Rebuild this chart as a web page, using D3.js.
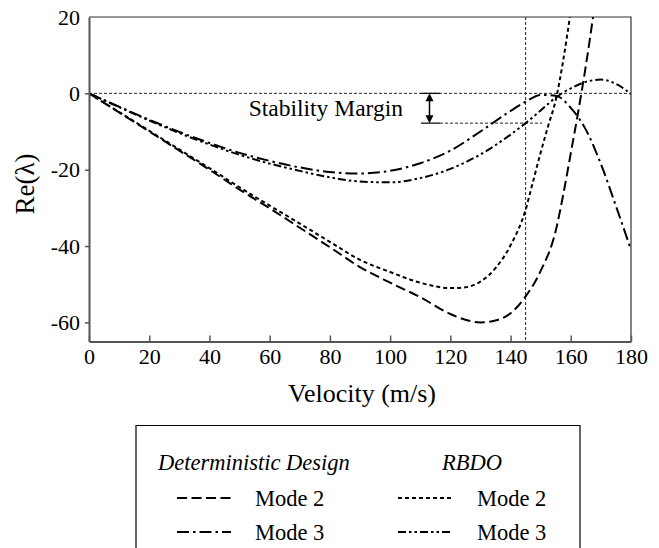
<!DOCTYPE html>
<html>
<head>
<meta charset="utf-8">
<script src="https://cdn.jsdelivr.net/npm/d3@7"></script>
<style>
    body { margin: 0; background: #fff; }
    svg { display: block; }
</style>
</head>
<body>
<div id="chart"></div>
<script>
// velocity grid (m/s) and Re(lambda)
const detMode2V = [0, 10, 20, 30, 40, 50, 60, 70, 80, 90, 100, 110, 120, 125, 130, 135, 140, 145, 150, 155, 157.5, 160, 162.5, 165, 167.4];
const detMode2 = [0, -5, -10, -15, -20, -25.2, -30.1, -35.2, -40.3, -45.5, -49.6, -53.4, -57.8, -59.3, -60, -59.5, -57.6, -53.2, -46.5, -36, -26.5, -15.7, -4.7, 7.2, 20];

const rbdoMode2V = [0, 10, 20, 30, 40, 50, 60, 70, 80, 90, 100, 110, 120, 125, 130, 135, 140, 145, 147.5, 150, 152.5, 155, 157.5, 159.7];
const rbdoMode2 = [0, -4.9, -9.8, -14.7, -19.6, -24.6, -29.4, -34.1, -38.9, -43.6, -46.8, -49.6, -51, -50.8, -49.3, -45.8, -39.8, -30.5, -23, -15.5, -8.5, -1.8, 8.7, 20];

const detMode3V = [0, 10, 20, 30, 40, 50, 60, 70, 80, 90, 100, 110, 120, 130, 140, 145, 150, 155, 160, 165, 170, 175, 180];
const detMode3 = [0, -3.5, -6.9, -10.1, -13, -15.6, -17.7, -19.4, -20.6, -21, -20.3, -18.3, -15, -10, -4.6, -2.2, -0.4, -0.6, -3.8, -9.5, -18.5, -29.5, -41];

const rbdoMode3V = [0, 10, 20, 30, 40, 50, 60, 70, 80, 90, 100, 110, 120, 130, 140, 145, 150, 155, 160, 165, 170, 175, 180];
const rbdoMode3 = [0, -3.6, -7.1, -10.4, -13.4, -16.1, -18.4, -20.3, -22, -23.1, -23.3, -22.2, -19.8, -16, -10.8, -7.8, -4.5, -1.1, 1.3, 3, 3.6, 2.5, -0.2];

const xTicks = [0, 20, 40, 60, 80, 100, 120, 140, 160, 180];
const yTicks = [20, 0, -20, -40, -60];

const criticalV = 145;
const marginValue = -7.8;

const FONT = "'Liberation Serif', 'Times New Roman', serif";

function drawChart() {
    const W = 659, H = 548;
    const plot = { left: 89, top: 17, right: 631, bottom: 341.5 };

    const svg = d3.select("#chart").append("svg")
        .attr("width", W)
        .attr("height", H);

    const x = d3.scaleLinear().domain([0, 180]).range([plot.left, plot.right]);
    const y = d3.scaleLinear().domain([-65, 20]).range([plot.bottom, plot.top]);

    svg.append("clipPath").attr("id", "clip")
        .append("rect")
        .attr("x", plot.left).attr("y", plot.top)
        .attr("width", plot.right - plot.left)
        .attr("height", plot.bottom - plot.top);

    // reference lines
    const ref = svg.append("g")
        .attr("stroke", "#222")
        .attr("stroke-width", 1)
        .attr("stroke-dasharray", "3,2");
    ref.append("line")
        .attr("x1", x(0)).attr("x2", x(180))
        .attr("y1", y(0)).attr("y2", y(0));
    ref.append("line")
        .attr("x1", x(criticalV)).attr("x2", x(criticalV))
        .attr("y1", plot.top).attr("y2", plot.bottom);
    ref.append("line")
        .attr("x1", 440).attr("x2", x(150.5))
        .attr("y1", y(marginValue)).attr("y2", y(marginValue));

    // stability margin arrow
    const ax = 429.5;
    const arrow = svg.append("g").attr("stroke", "#000").attr("fill", "#000");
    arrow.append("line")
        .attr("x1", 421).attr("x2", 440)
        .attr("y1", y(marginValue)).attr("y2", y(marginValue))
        .attr("stroke-width", 1.2);
    arrow.append("line")
        .attr("x1", 421).attr("x2", 440)
        .attr("y1", y(0)).attr("y2", y(0))
        .attr("stroke-width", 1.2);
    arrow.append("line")
        .attr("x1", ax).attr("x2", ax)
        .attr("y1", y(0) + 6).attr("y2", y(marginValue) - 6)
        .attr("stroke-width", 1.5);
    arrow.append("path")
        .attr("stroke", "none")
        .attr("d", `M${ax},${y(0)} L${ax - 4},${y(0) + 8} L${ax + 4},${y(0) + 8} Z`);
    arrow.append("path")
        .attr("stroke", "none")
        .attr("d", `M${ax},${y(marginValue)} L${ax - 4},${y(marginValue) - 8} L${ax + 4},${y(marginValue) - 8} Z`);

    svg.append("text")
        .attr("x", 403)
        .attr("y", 115.5)
        .attr("text-anchor", "end")
        .attr("font-size", 23.5)
        .text("Stability Margin");

    // curves
    const series = [
        { v: detMode2V, val: detMode2, dash: "10,4.5" },
        { v: rbdoMode2V, val: rbdoMode2, dash: "4,3" },
        { v: detMode3V, val: detMode3, dash: "12,4,2.5,4" },
        { v: rbdoMode3V, val: rbdoMode3, dash: "8,3,2.5,3,2.5,3" }
    ];

    const line = d3.line()
        .x(d => x(d[0]))
        .y(d => y(d[1]))
        .curve(d3.curveMonotoneX);

    svg.append("g")
        .attr("clip-path", "url(#clip)")
        .selectAll("path")
        .data(series)
        .enter()
        .append("path")
        .attr("d", s => line(s.v.map((v, i) => [v, s.val[i]])))
        .attr("fill", "none")
        .attr("stroke", "#000")
        .attr("stroke-width", 2)
        .attr("stroke-dasharray", s => s.dash);

    // frame
    svg.append("path")
        .attr("d", `M${plot.left},${plot.top} H${plot.right} V${plot.bottom}`)
        .attr("fill", "none")
        .attr("stroke", "#333")
        .attr("stroke-width", 1.2);

    // axes
    const xAxis = svg.append("g")
        .attr("transform", `translate(0,${plot.bottom})`)
        .call(d3.axisBottom(x).tickValues(xTicks).tickFormat(d => String(d))
            .tickSizeInner(-6).tickSizeOuter(0).tickPadding(7));
    const yAxis = svg.append("g")
        .attr("transform", `translate(${plot.left},0)`)
        .call(d3.axisLeft(y).tickValues(yTicks).tickFormat(d => String(d))
            .tickSizeInner(4).tickSizeOuter(0).tickPadding(5));

    [xAxis, yAxis].forEach(g => {
        g.attr("font-family", FONT).attr("font-size", 22);
        g.select(".domain").attr("stroke", "#555").attr("stroke-width", 2);
        g.selectAll(".tick line").attr("stroke", "#555").attr("stroke-width", 1.5);
        g.selectAll(".tick text").attr("fill", "#000");
    });
    yAxis.selectAll(".tick").filter(d => d === 20).select("line").remove();

    svg.append("text")
        .attr("x", 362)
        .attr("y", 402)
        .attr("text-anchor", "middle")
        .attr("font-size", 26)
        .text("Velocity (m/s)");

    svg.append("text")
        .attr("transform", "translate(34,184) rotate(-90)")
        .attr("text-anchor", "middle")
        .attr("font-size", 27)
        .text("Re(λ)");

    // legend
    const legend = svg.append("g");
    legend.append("path")
        .attr("d", "M136,560 V425.5 H580 V560")
        .attr("fill", "none")
        .attr("stroke", "#000")
        .attr("stroke-width", 1.2);

    legend.append("text")
        .attr("x", 158).attr("y", 470)
        .attr("font-size", 22.5)
        .attr("font-style", "italic")
        .text("Deterministic Design");
    legend.append("text")
        .attr("x", 472).attr("y", 470)
        .attr("text-anchor", "middle")
        .attr("font-size", 22.5)
        .attr("font-style", "italic")
        .text("RBDO");

    const legendItems = [
        { x1: 177, tx: 255, cy: 498, label: "Mode 2", dash: series[0].dash },
        { x1: 177, tx: 255, cy: 532, label: "Mode 3", dash: series[2].dash },
        { x1: 398, tx: 477, cy: 498, label: "Mode 2", dash: series[1].dash },
        { x1: 398, tx: 477, cy: 532, label: "Mode 3", dash: series[3].dash }
    ];

    legendItems.forEach(it => {
        legend.append("line")
            .attr("x1", it.x1).attr("x2", it.x1 + 54)
            .attr("y1", it.cy).attr("y2", it.cy)
            .attr("stroke", "#000")
            .attr("stroke-width", 2)
            .attr("stroke-dasharray", it.dash);
        legend.append("text")
            .attr("x", it.tx).attr("y", it.cy + 7.5)
            .attr("font-size", 22.5)
            .text(it.label);
    });

    svg.selectAll("text").attr("font-family", FONT);
}

drawChart();
</script>
</body>
</html>
